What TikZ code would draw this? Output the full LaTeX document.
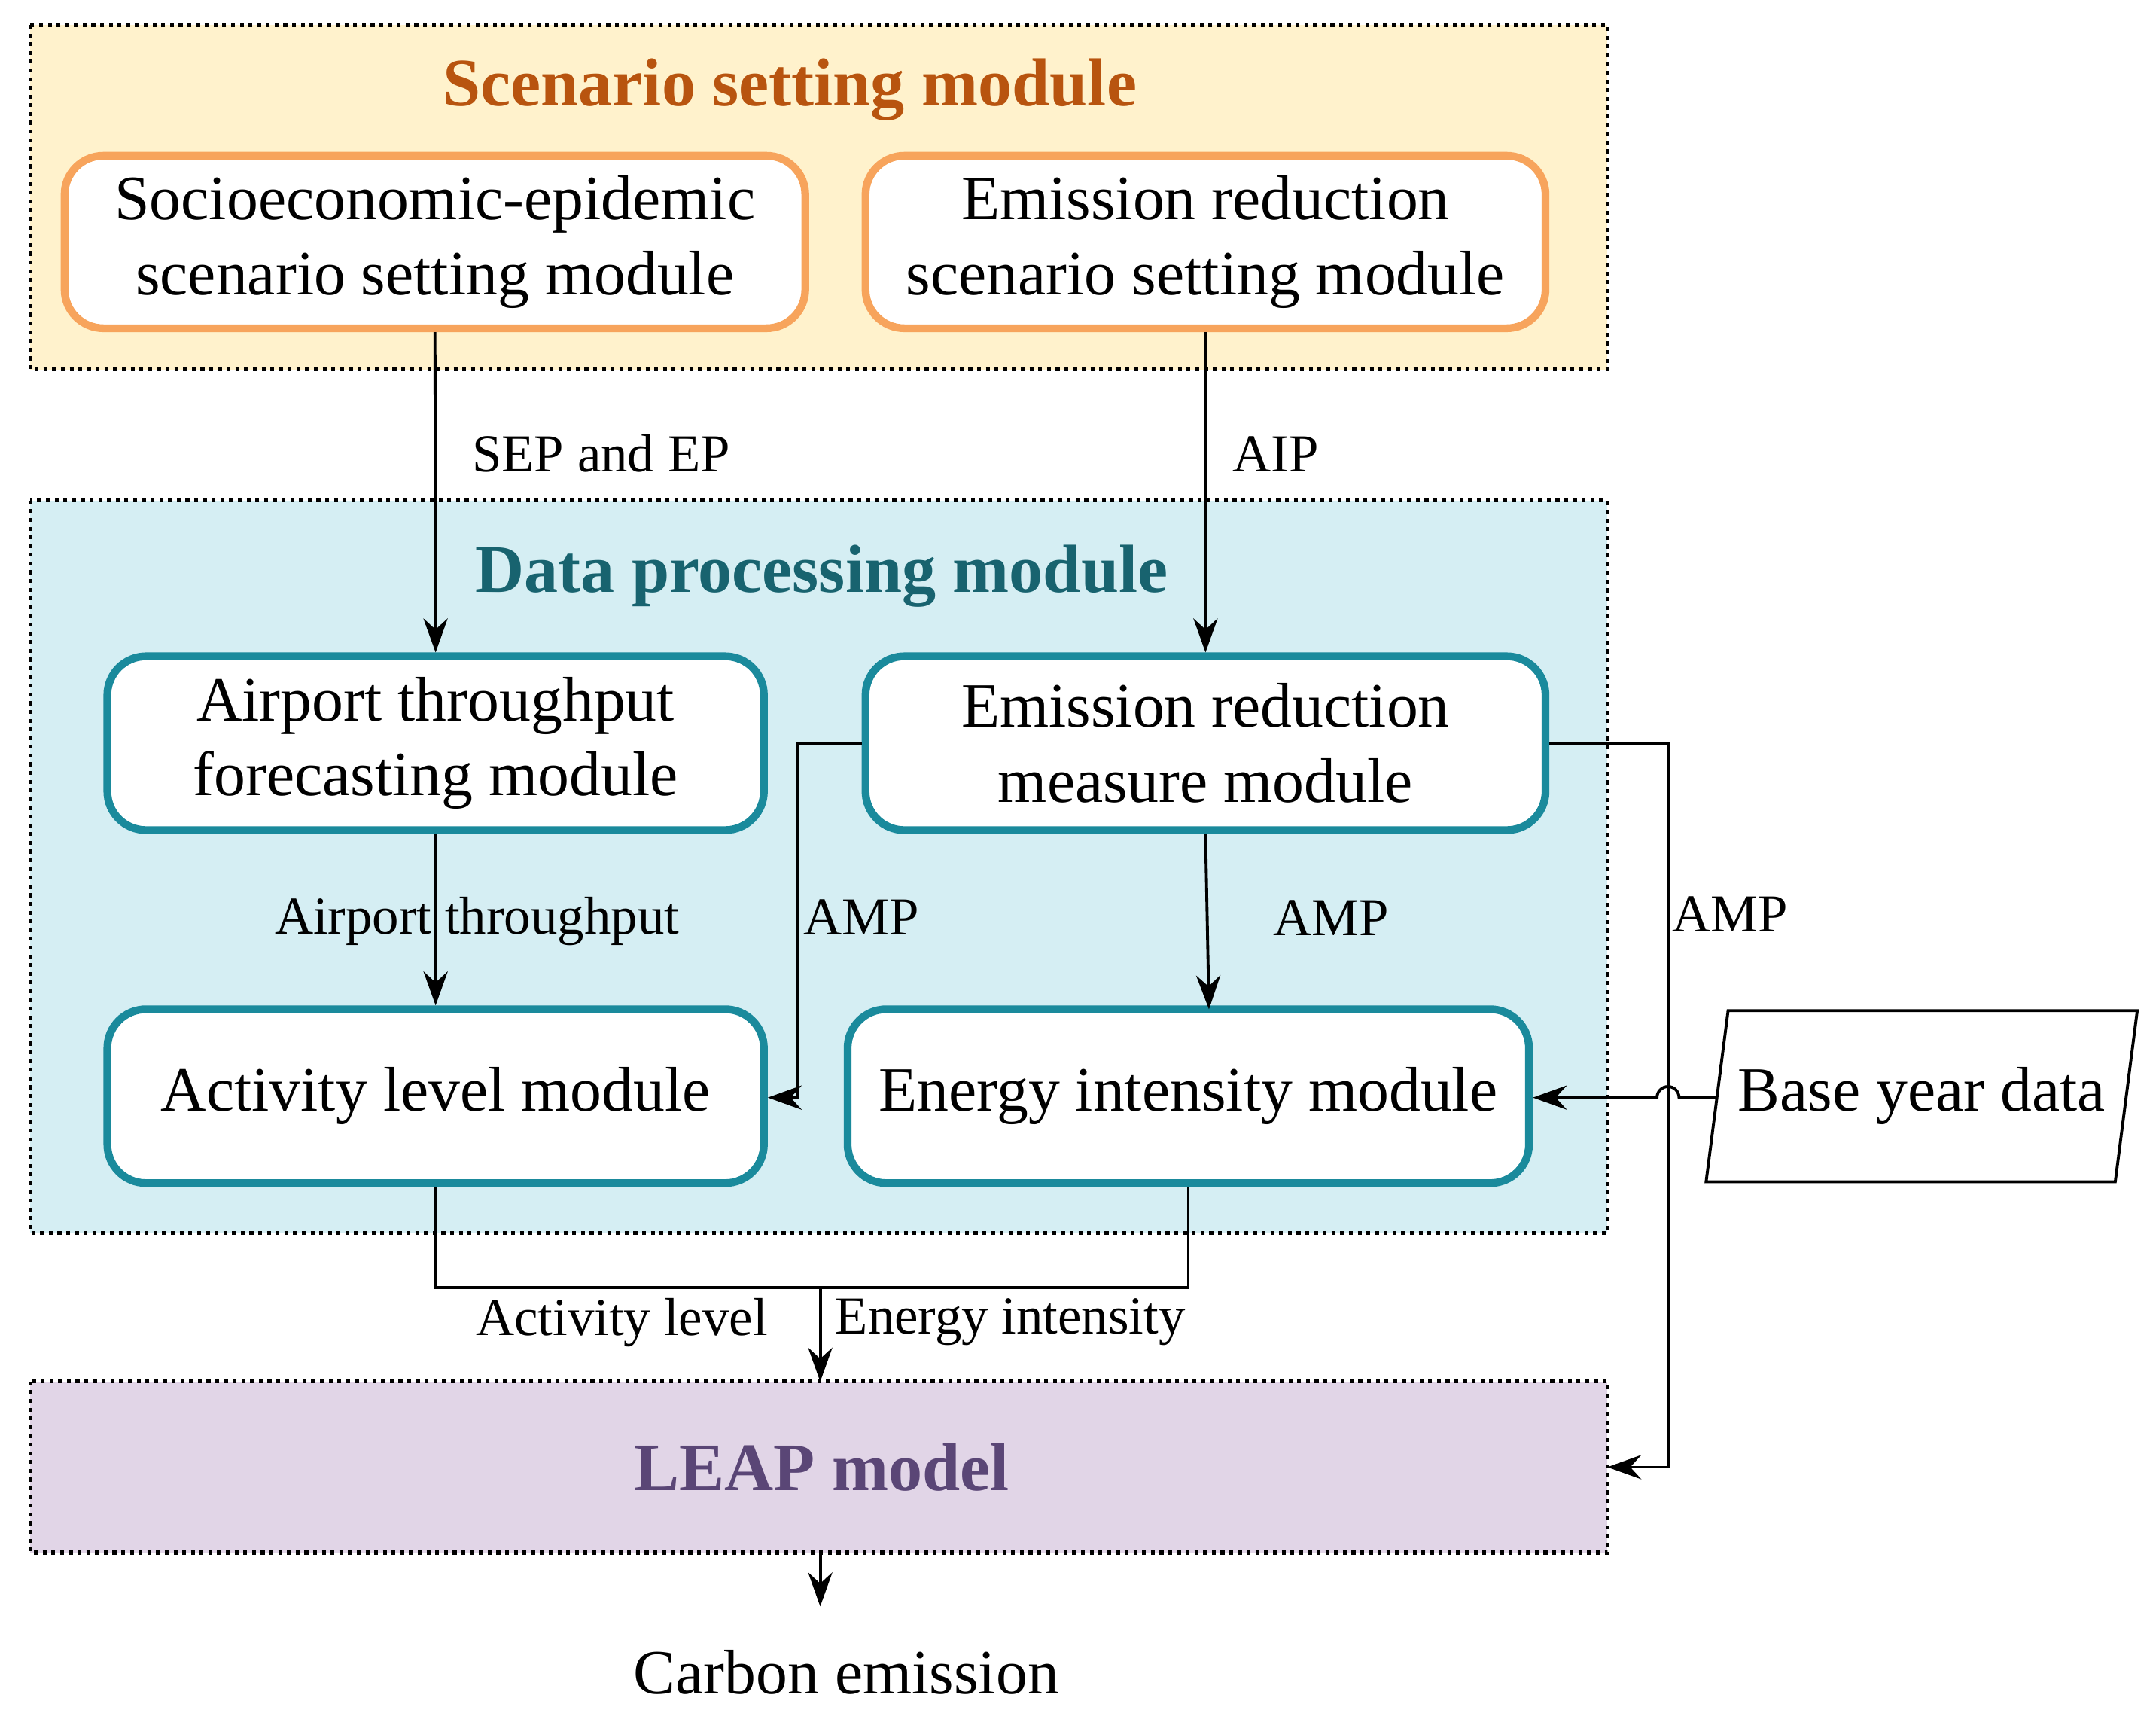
\documentclass[tikz,border=0pt]{standalone}
\usepackage{fontspec}
\setmainfont{Liberation Serif}
\usetikzlibrary{arrows.meta,shapes.geometric}
\definecolor{ybg}{HTML}{FFF2CC}
\definecolor{bbg}{HTML}{D5EEF3}
\definecolor{pbg}{HTML}{E1D5E7}
\definecolor{obd}{HTML}{F7A45C}
\definecolor{tbd}{HTML}{1A8A9C}
\definecolor{otx}{HTML}{B8540F}
\definecolor{ttx}{HTML}{18636F}
\definecolor{ptx}{HTML}{5A4676}
\begin{document}
\begin{tikzpicture}[x=0.01cm,y=-0.01cm,
  big/.style={fill=#1,draw=black,densely dotted,line width=0.8pt},
  ttl/.style={font=\fontsize{14}{16}\selectfont\bfseries,text=#1},
  mod/.style={draw=#1,line width=1.6pt,rounded corners=8pt,fill=white,align=center,
     font=\fontsize{13}{15.5}\selectfont,inner sep=0pt},
  lbl/.style={font=\fontsize{11}{13}\selectfont},
  arr/.style={-{Stealth[length=7pt,width=5pt]},line width=0.6pt},
  ln/.style={line width=0.6pt}]
\useasboundingbox (0,0) rectangle (1564,1242);
\draw[big=ybg] (22,18) rectangle (1166,268);
\draw[big=bbg] (22,363) rectangle (1166,894);
\draw[big=pbg] (22,1002) rectangle (1166,1126);
\node[ttl=otx] (t1) at (573,65) {Scenario setting module};
\node[ttl=ttx] (t2) at (596,418) {Data processing module};
\node[ttl=ptx] (leapt) at (596,1064) {LEAP model};
\coordinate (leapR) at (1166,1064);
\coordinate (leapT) at (595,1002);
\coordinate (leapB) at (595,1126);
\node[mod=obd,minimum width=5.37cm,minimum height=1.25cm] (soc) at (315.5,175.5) {Socioeconomic-epidemic\\scenario setting module};
\node[mod=obd,minimum width=4.93cm,minimum height=1.25cm] (ers) at (874.5,175.5) {Emission reduction\\scenario setting module};
\node[mod=tbd,minimum width=4.76cm,minimum height=1.26cm] (apt) at (316,539) {Airport throughput\\forecasting module};
\node[mod=tbd,minimum width=4.93cm,minimum height=1.26cm] (erm) at (874.5,539) {Emission reduction\\measure module};
\node[mod=tbd,minimum width=4.76cm,minimum height=1.26cm] (act) at (316,795) {Activity level module};
\node[mod=tbd,minimum width=4.94cm,minimum height=1.26cm] (ene) at (862,795) {Energy intensity module};
\node[trapezium,trapezium stretches=true,trapezium left angle=70,trapezium right angle=110,draw,line width=0.6pt,
  minimum width=3.14cm,minimum height=1.24cm,font=\fontsize{13}{15.5}\selectfont,inner sep=0pt] (base) at (1394,795) {Base year data};
\node[lbl] (carb) at (614,1213) {\fontsize{13}{15.5}\selectfont Carbon emission};
% connectors
\draw[arr] (soc.south) -- (apt.north) node[lbl,pos=0.38,right=4pt] {SEP and EP};
\draw[arr] (ers.south) -- (erm.north) node[lbl,pos=0.38,right=2pt] {AIP};
\draw[arr] (apt.south) -- (act.north);
\node[lbl] (atl) at (346,668) {Airport throughput};
\draw[arr] (erm.south) -- (877,732) node[lbl,pos=0.48,right=10pt] {AMP};
\draw[arr] (erm.west |- 0,539) -- (579,539) -- (579,796) -- (act.east |- 0,796);
\node[lbl] (amp1) at (625,665) {AMP};
\draw[arr] (erm.east |- 0,539) -- (1210,539) -- (1210,1064) -- (leapR);
\node[lbl] (amp2) at (1255,663) {AMP};
\draw[arr] (base.west |- 0,796) -- (1218,796) arc[start angle=0,end angle=180,radius=0.08cm] -- (ene.east |- 0,796);
\draw[ln] (act.south) -- (316,934) -- (862,934) -- (ene.south);
\draw[arr] (595,934) -- (leapT);
\node[lbl] (al) at (451,959) {Activity level};
\node[lbl] (ei) at (733,959) {Energy intensity};
\draw[arr] (leapB) -- (595,1165);
\end{tikzpicture}
\end{document}
